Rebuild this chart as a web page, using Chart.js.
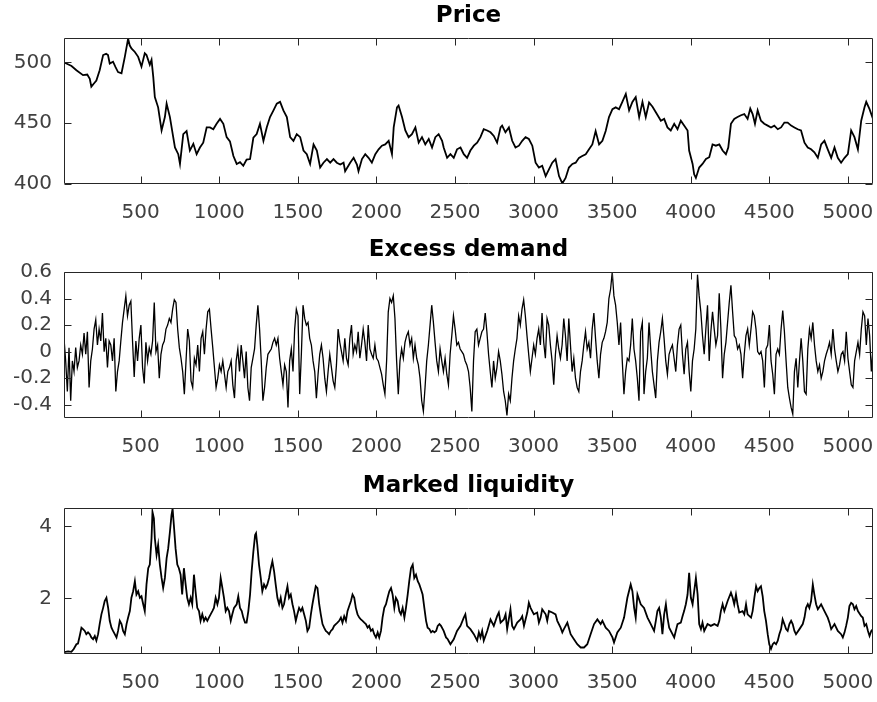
<!DOCTYPE html>
<html>
<head>
<meta charset="utf-8">
<title>Price, excess demand and market liquidity</title>
<script src="https://cdn.jsdelivr.net/npm/chart.js@4/dist/chart.umd.min.js"></script>
<style>
  html, body { margin: 0; padding: 0; background: #ffffff; }
  #figure { position: relative; width: 877px; height: 702px; overflow: hidden; background: #ffffff; }
  #figure canvas { position: absolute; left: 0; }
</style>
</head>
<body>
<div id="figure">
  <canvas id="pricePanel" width="877" height="234" style="top:0px;width:877px;height:234px"></canvas>
  <canvas id="demandPanel" width="877" height="234" style="top:234px;width:877px;height:234px"></canvas>
  <canvas id="liquidityPanel" width="877" height="232" style="top:470px;width:877px;height:232px"></canvas>
</div>
<script>
// ---------------- axes ----------------
const xTicks = [500, 1000, 1500, 2000, 2500, 3000, 3500, 4000, 4500, 5000];
const xTickLabels = ['500', '1000', '1500', '2000', '2500', '3000', '3500', '4000', '4500', '5000'];
const xRange = [12, 5160];

const priceTicks = [400, 450, 500];
const priceTickLabels = ['400', '450', '500'];
const priceRange = [400, 520];

const demandTicks = [-0.4, -0.2, 0, 0.2, 0.4, 0.6];
const demandTickLabels = ['-0.4', '-0.2', '0', '0.2', '0.4', '0.6'];
const demandRange = [-0.5, 0.6];

const liquidityTicks = [2, 4];
const liquidityTickLabels = ['2', '4'];
const liquidityRange = [0.46, 4.51];

const panelTitles = ['Price', 'Excess demand', 'Marked liquidity'];

// ---------------- price (step, price) ----------------
const priceX = [
  12,27,60,91,133,160,176,186,205,218,
  239,261,280,292,303,324,340,356,378,399,
  420,430,441,463,484,505,526,537,558,569,
  580,590,611,633,654,665,686,707,718,739,
  750,771,792,813,835,856,877,898,920,941,
  962,983,1005,1026,1047,1068,1090,1111,1132,1153,
  1174,1196,1217,1238,1259,1281,1302,1323,1345,1366,
  1387,1408,1430,1451,1472,1493,1515,1536,1557,1578,
  1600,1621,1642,1663,1685,1706,1727,1748,1770,1791,
  1801,1833,1855,1876,1886,1908,1929,1950,1971,1993,
  2014,2035,2056,2078,2099,2110,2131,2141,2163,2184,
  2205,2226,2248,2269,2290,2311,2333,2354,2375,2396,
  2418,2428,2450,2471,2492,2513,2535,2556,2577,2598,
  2620,2641,2662,2683,2705,2726,2747,2768,2790,2800,
  2821,2843,2864,2885,2907,2928,2949,2970,2992,3013,
  3034,3055,3077,3098,3119,3140,3162,3183,3204,3225,
  3247,3268,3289,3310,3332,3353,3374,3395,3417,3438,
  3459,3480,3502,3523,3544,3565,3587,3608,3629,3650,
  3672,3693,3714,3735,3757,3778,3799,3810,3831,3852,
  3873,3895,3916,3937,3958,3980,3990,4012,4022,4033,
  4054,4075,4097,4118,4139,4160,4182,4203,4224,4239,
  4256,4277,4298,4320,4341,4362,4379,4394,4409,4426,
  4447,4468,4490,4511,4532,4554,4575,4596,4617,4639,
  4660,4681,4702,4724,4745,4766,4787,4809,4830,4851,
  4872,4894,4915,4936,4957,4979,5000,5021,5042,5064,
  5085,5106,5117,5138,5160
];
const priceY = [
  500,499,497,493.5,489.5,490,486.5,480,483,485,
  493.5,506,507,506,499,500.5,496,492,491,504.5,
  519.5,514,511.5,508.5,504.5,496.5,507.5,506,498,502,
  488,471.5,463,444,455,466,455,438.5,430,424.5,
  416.5,441,443.5,427.5,433,424.5,430,434,446.5,446.5,
  445,449.5,453.5,449.5,438.5,435,423,416.5,418,415,
  420,420.5,438,441,449.5,435.5,446.5,455,460.5,466,
  467.5,460.5,455,438.5,435.5,441,438.5,427.5,424.5,416.5,
  432.5,427.5,413.5,417.5,420.5,417.5,420.5,417.5,416,417.5,
  410.5,417.5,421.5,416,410.5,420.5,424.5,421.5,417.5,424.5,
  428.5,431.5,432.5,435.5,424.5,446.5,463,464.5,455,444,
  438.5,441,446.5,434,438.5,432.5,437,430,438.5,441,
  435.5,430,421.5,424.5,421.5,428.5,430,424.5,421.5,427.5,
  431.5,434,438.5,445,444,442.5,439.5,434,446.5,448,
  442.5,446.5,435.5,430,431.5,435.5,438.5,437,431.5,417.5,
  413.5,415,406.5,412,417.5,420.5,406.5,400.5,405,413.5,
  416.5,417.5,421.5,423,424.5,428.5,432.5,443.5,432.5,435.5,
  443.5,455,461.5,463,461.5,467.5,474,460.5,467.5,471.5,
  455,467.5,455,467,463.5,459,454.5,452,453.5,446.5,
  444,449.5,445,452,448,444,427.5,416.5,408,405,
  413.5,416.5,420.5,422,432.5,431.5,432.5,427.5,424.5,430,
  449.5,453.5,455,456.5,457.5,453.5,462,457.5,449.5,460.5,
  452,449.5,448,446.5,448,445,446.5,450.5,450.5,448,
  446.5,445,444,434,430,428.5,426,421.5,432.5,435.5,
  428.5,421.5,430,421.5,417.5,421.5,424.5,444,438.5,428.5,
  452,463,467.5,461.5,453.5
];

// ---------------- excess demand (evenly sampled) ----------------
const demandFirstStep = 12;
const demandLastStep = 5160;
const demandValues = [
  0.10,-0.07,-0.30,0.03,-0.37,-0.07,-0.15,0.03,-0.12,-0.07,
  0.05,-0.02,0.14,-0.02,0.15,-0.27,-0.07,0.02,0.17,0.24,
  0.05,0.17,0.08,0.29,0.00,0.10,-0.12,0.08,0.05,-0.07,
  0.10,-0.30,-0.15,-0.07,0.08,0.22,0.32,0.42,0.27,0.35,
  0.38,0.08,-0.19,0.08,-0.07,0.10,0.20,-0.12,-0.24,0.07,
  -0.07,0.03,-0.02,0.08,0.37,0.00,0.05,-0.20,-0.02,0.05,
  0.08,0.17,0.20,0.25,0.22,0.32,0.39,0.37,0.17,0.03,
  -0.05,-0.15,-0.32,-0.07,0.17,0.08,-0.22,-0.27,-0.05,-0.10,
  0.05,-0.15,0.10,0.15,-0.02,0.17,0.30,0.32,0.17,0.03,
  -0.12,-0.27,-0.20,-0.10,-0.15,-0.07,-0.17,-0.27,-0.15,
  -0.12,-0.07,-0.25,-0.35,-0.07,0.02,-0.15,0.05,-0.07,-0.20,
  0.00,-0.27,-0.37,-0.12,-0.05,0.02,0.20,0.35,0.17,-0.07,
  -0.37,-0.27,-0.12,-0.02,0.00,0.02,0.07,0.10,0.05,0.10,
  -0.05,-0.15,-0.25,-0.10,-0.15,-0.42,-0.07,0.02,-0.15,0.17,
  0.32,0.27,-0.32,-0.02,0.35,0.25,0.20,0.22,0.10,0.05,
  -0.07,-0.15,-0.35,-0.17,-0.02,0.05,-0.05,-0.20,-0.30,-0.15,
  -0.02,-0.12,-0.22,-0.27,-0.10,0.17,0.07,0.00,-0.07,0.10,
  -0.05,-0.10,0.10,0.20,-0.02,0.05,0.00,0.15,-0.05,0.05,
  0.17,0.07,-0.07,0.20,0.02,-0.02,-0.05,0.05,-0.05,-0.07,
  -0.12,-0.17,-0.25,-0.32,-0.07,0.30,0.40,0.37,0.42,0.25,
  -0.07,-0.32,-0.07,0.02,-0.05,0.07,0.12,0.15,0.05,0.10,
  -0.05,0.05,-0.05,-0.10,-0.20,-0.37,-0.45,-0.27,-0.07,0.05,
  0.20,0.35,0.22,0.07,-0.07,-0.15,
  0.02,-0.07,-0.15,-0.05,-0.17,-0.25,-0.02,0.12,0.27,0.17,
  0.05,0.07,0.02,0.00,-0.02,-0.07,-0.10,-0.15,-0.27,-0.45,
  -0.07,0.15,0.17,0.05,0.10,0.15,0.17,0.29,0.15,-0.02,
  -0.15,-0.27,-0.07,-0.20,-0.12,0.00,-0.07,-0.17,-0.30,-0.37,
  -0.48,-0.32,-0.37,-0.20,-0.07,0.02,0.10,0.27,0.20,0.32,
  0.39,0.27,0.12,-0.02,-0.15,-0.05,0.05,-0.02,0.10,0.17,
  0.05,0.29,0.07,-0.05,0.25,0.20,0.05,-0.07,-0.25,-0.02,
  0.12,0.02,-0.05,0.05,0.25,0.12,-0.07,0.25,0.05,-0.15,
  -0.05,-0.20,-0.27,-0.30,-0.15,-0.07,0.05,0.15,0.02,0.07,
  -0.05,0.17,0.29,0.10,-0.07,-0.20,-0.02,0.07,0.10,0.15,
  0.22,0.40,0.47,0.60,0.42,0.35,0.22,0.05,0.22,-0.07,
  -0.32,-0.15,-0.05,-0.07,0.05,0.25,0.02,-0.07,-0.20,-0.37,
  0.15,0.22,-0.32,-0.15,-0.05,0.22,
  0.02,-0.15,-0.25,-0.35,-0.07,0.07,0.15,0.25,0.10,-0.07,
  -0.17,-0.02,0.02,0.05,-0.05,-0.15,0.05,0.17,0.20,-0.02,
  -0.17,0.02,0.07,-0.15,-0.30,-0.07,0.02,0.17,0.58,0.42,
  0.30,0.12,-0.02,0.17,0.35,-0.07,0.15,0.30,0.17,0.05,
  0.12,0.44,0.17,-0.20,-0.02,0.07,0.22,0.37,0.50,0.30,
  0.12,0.10,0.02,0.05,-0.02,-0.20,-0.02,0.12,0.17,0.05,
  0.17,0.30,0.27,0.17,0.00,-0.02,0.00,-0.07,-0.27,0.02,
  0.05,0.20,-0.07,-0.17,-0.32,-0.02,0.02,-0.02,0.17,0.31,
  0.15,-0.07,-0.27,-0.35,-0.42,-0.47,-0.15,-0.05,-0.27,-0.07,
  0.10,-0.07,-0.30,-0.32,0.02,0.17,0.10,0.22,0.05,-0.07,
  -0.15,-0.10,-0.20,-0.15,-0.07,-0.02,0.02,0.07,-0.02,0.17,
  0.02,-0.07,-0.15,-0.10,-0.02,0.00,-0.07,0.15,-0.05,-0.15,
  -0.25,-0.27,-0.07,0.00,0.07,-0.02,0.17,0.30,0.27,0.05,
  0.25,0.12,-0.15,0.02
];

// ---------------- market liquidity (step, level) ----------------
const liquidityX = [
  12,38,59,74,91,101,112,123,133,144,
  154,165,176,186,197,208,218,229,239,250,
  261,271,282,293,303,314,324,335,346,356,
  367,378,388,399,410,420,431,441,452,463,
  473,484,495,505,516,526,537,548,558,569,
  575,584,590,601,611,622,633,643,654,665,
  675,686,696,703,711,722,733,743,754,764,
  775,786,796,807,818,828,839,849,860,871,
  881,892,903,913,924,934,945,956,966,977,
  988,998,1009,1020,1030,1041,1051,1062,1073,1083,
  1094,1111,1121,1132,1143,1153,1164,1174,1185,1196,
  1206,1217,1228,1234,1242,1253,1264,1274,1285,1296,
  1306,1317,1328,1338,1349,1359,1370,1381,1391,1402,
  1412,1423,1434,1444,1455,1466,1476,1487,1497,1508,
  1519,1529,1540,1551,1561,1572,1583,1593,1604,1614,
  1625,1636,1646,1657,1667,1678,1689,1699,1710,1721,
  1731,1742,1752,1763,1774,1784,1795,1806,1816,1827,
  1838,1848,1859,1869,1880,1891,1901,1912,1923,1933,
  1944,1954,1965,1976,1986,1997,2008,2018,2029,2039,
  2050,2061,2071,2082,2093,2103,2114,2124,2135,2146,
  2156,2167,2178,2188,2199,2209,2220,2231,2241,2252,
  2263,2273,2284,2294,2305,2316,2326,2337,2348,2358,
  2369,2380,2390,2401,2411,2428,2443,2454,2471,2492,
  2513,2535,2556,2566,2577,2598,2620,2641,2652,2662,
  2673,2683,2705,2726,2747,2768,2779,2790,2811,2822,
  2832,2853,2864,2875,2896,2917,2928,2939,2960,2970,
  2981,3002,3023,3034,3045,3055,3077,3087,3098,3119,
  3140,3151,3172,3183,3193,3215,3236,3257,3278,3300,
  3321,3342,3363,3385,3406,3427,3438,3459,3480,3502,
  3512,3533,3555,3576,3597,3618,3629,3640,3650,3661,
  3682,3703,3725,3746,3767,3778,3788,3799,3810,3820,
  3831,3842,3852,3863,3884,3895,3905,3916,3937,3948,
  3958,3969,3980,3990,4001,4012,4022,4033,4044,4054,
  4065,4075,4086,4107,4128,4150,4171,4182,4192,4203,
  4214,4235,4256,4267,4277,4288,4298,4309,4330,4341,
  4352,4362,4384,4394,4405,4416,4426,4437,4447,4458,
  4468,4479,4490,4500,4511,4522,4532,4543,4554,4564,
  4575,4585,4596,4607,4617,4628,4639,4649,4660,4670,
  4692,4713,4724,4734,4745,4755,4766,4777,4787,4798,
  4809,4830,4851,4872,4883,4894,4915,4936,4957,4968,
  4979,4989,5000,5010,5021,5032,5042,5053,5064,5085,
  5095,5106,5117,5128,5138,5149,5160
];
const liquidityY = [
  0.51,0.53,0.52,0.60,0.73,0.75,0.96,1.19,1.15,1.10,
  1.01,1.06,1.01,0.92,0.87,0.96,0.83,1.01,1.29,1.56,
  1.74,1.93,2.02,1.74,1.38,1.19,1.10,1.01,0.92,1.10,
  1.38,1.29,1.10,1.01,1.29,1.47,1.65,2.02,2.20,2.48,
  2.11,2.20,2.02,2.06,1.84,1.65,2.39,2.84,2.94,3.67,
  4.40,4.22,3.67,3.21,3.49,2.94,2.57,2.29,2.57,3.12,
  3.39,3.85,4.31,4.49,4.04,3.39,2.94,2.84,2.66,2.11,
  2.84,2.39,2.02,1.84,2.02,1.84,2.66,2.20,1.74,1.65,
  1.38,1.56,1.38,1.47,1.38,1.47,1.56,1.65,1.74,2.02,
  1.84,2.02,2.57,2.29,2.02,1.65,1.74,1.65,1.38,1.56,
  1.74,1.84,2.06,1.74,1.65,1.47,1.33,1.33,1.65,2.11,
  2.75,3.30,3.76,3.81,3.49,2.94,2.57,2.20,2.39,2.29,
  2.39,2.57,2.84,3.03,2.75,2.39,2.02,1.84,2.02,1.74,
  1.84,2.11,2.34,2.02,2.11,1.84,1.65,1.38,1.56,1.74,
  1.65,1.74,1.56,1.38,1.10,1.19,1.56,1.84,2.11,2.34,
  2.29,1.84,1.56,1.29,1.19,1.10,1.06,1.01,1.10,1.15,
  1.24,1.29,1.33,1.38,1.47,1.33,1.51,1.38,1.65,1.79,
  1.93,2.11,2.02,1.74,1.56,1.47,1.42,1.38,1.33,1.29,
  1.19,1.24,1.10,1.15,1.01,0.92,1.06,0.92,1.10,1.47,
  1.74,1.84,2.02,2.20,2.29,2.11,1.74,2.02,1.93,1.65,
  1.56,1.74,1.47,1.74,2.11,2.48,2.84,2.94,2.57,2.66,
  2.48,2.39,2.25,2.11,1.74,1.38,1.19,1.15,1.06,1.10,
  1.06,1.10,1.24,1.29,1.24,1.10,0.92,0.87,0.73,0.87,
  1.10,1.24,1.47,1.56,1.24,1.15,1.01,0.83,1.06,0.92,
  1.10,0.83,1.10,1.42,1.24,1.51,1.61,1.33,1.42,1.56,
  1.15,1.70,1.24,1.15,1.33,1.42,1.51,1.24,1.61,1.88,
  1.74,1.56,1.61,1.33,1.47,1.70,1.56,1.38,1.65,1.61,
  1.56,1.38,1.19,1.06,1.15,1.33,1.01,0.87,0.73,0.64,
  0.64,0.73,1.01,1.29,1.42,1.29,1.38,1.19,1.10,0.92,
  0.78,1.06,1.19,1.47,2.02,2.39,2.20,1.74,1.47,2.11,
  1.84,1.74,1.47,1.29,1.10,1.38,1.65,1.74,1.47,1.01,
  1.56,1.84,1.47,1.19,1.01,0.92,1.10,1.29,1.33,1.51,
  1.65,1.84,2.11,2.71,2.02,1.84,2.20,2.57,2.11,1.29,
  1.15,1.33,1.10,1.29,1.24,1.29,1.24,1.38,1.65,1.84,
  1.65,1.93,2.16,2.02,1.84,2.11,1.84,1.61,1.65,1.56,
  1.84,1.56,1.47,1.65,2.02,2.34,2.20,2.29,2.34,2.06,
  1.65,1.38,1.01,0.73,0.60,0.73,0.78,0.73,0.83,1.01,
  1.15,1.42,1.29,1.15,1.10,1.29,1.38,1.29,1.10,1.01,
  1.15,1.29,1.47,1.74,1.84,1.74,1.93,2.39,2.11,1.84,
  1.70,1.84,1.65,1.47,1.33,1.15,1.29,1.10,1.01,0.92,
  1.06,1.24,1.47,1.79,1.88,1.84,1.70,1.79,1.65,1.51,
  1.47,1.24,1.29,1.10,0.96,1.10,1.15
];

// ---------------- layout & style ----------------
const FONT = "'DejaVu Sans', 'Liberation Sans', sans-serif";
const PLOT_TOP = 38;        // top of each axes box inside its canvas
const PLOT_BOTTOM = 184;    // bottom of each axes box inside its canvas
const AXIS_LEFT = 64;       // left edge of the axes box
const RIGHT_GAP = 4;        // space right of the axes box
const TITLE_SIZE = 23;
const TITLE_LINE = 1.2;
const TICK_SIZE = 20;
const TICK_COLOR = '#404040';
const FRAME_COLOR = '#262626';
const TICK_MARK = 7;

function toPoints(xs, ys) {
  const n = Math.min(xs.length, ys.length);
  const pts = [];
  for (let i = 0; i < n; i++) pts.push({ x: xs[i], y: ys[i] });
  return pts;
}

function evenPoints(first, last, values) {
  const step = (last - first) / (values.length - 1);
  return values.map((v, i) => ({ x: first + i * step, y: v }));
}

// Closed box around the plot area with inward tick marks on all four sides.
const axesBox = {
  id: 'axesBox',
  afterDatasetsDraw(chart) {
    const { ctx, chartArea: a } = chart;
    const xs = chart.scales.x, ys = chart.scales.y;
    const l = Math.round(a.left) + 0.5, r = Math.round(a.right) - 0.5;
    const t = Math.round(a.top) + 0.5, b = Math.round(a.bottom) - 0.5;
    ctx.save();
    ctx.strokeStyle = FRAME_COLOR;
    ctx.lineWidth = 1;
    ctx.beginPath();
    ctx.rect(l, t, r - l, b - t);
    xs.ticks.forEach(tk => {
      const px = Math.round(xs.getPixelForValue(tk.value)) + 0.5;
      ctx.moveTo(px, b); ctx.lineTo(px, b - TICK_MARK);
      ctx.moveTo(px, t); ctx.lineTo(px, t + TICK_MARK);
    });
    ys.ticks.forEach(tk => {
      const py = Math.round(ys.getPixelForValue(tk.value)) + 0.5;
      ctx.moveTo(l, py); ctx.lineTo(l + TICK_MARK, py);
      ctx.moveTo(r, py); ctx.lineTo(r - TICK_MARK, py);
    });
    ctx.stroke();
    ctx.restore();
  }
};

function makePanel(canvasId, title, points, yRange, yTicks, yTickLabels, lineWidth) {
  const canvas = document.getElementById(canvasId);
  const H = canvas.height;
  const titleTop = 2;
  const titleBottom = PLOT_TOP - titleTop - TITLE_SIZE * TITLE_LINE;
  return new Chart(canvas, {
    type: 'line',
    data: {
      datasets: [{
        data: points,
        borderColor: '#000000',
        borderWidth: lineWidth,
        pointRadius: 0,
        pointHoverRadius: 0,
        tension: 0,
        fill: false
      }]
    },
    options: {
      responsive: false,
      animation: false,
      devicePixelRatio: 1,
      parsing: false,
      normalized: true,
      events: [],
      layout: { padding: { left: 0, right: RIGHT_GAP, top: 0, bottom: 0 } },
      plugins: {
        legend: { display: false },
        tooltip: { enabled: false },
        title: {
          display: true,
          text: title,
          fullSize: false,
          color: '#000000',
          font: { family: FONT, size: TITLE_SIZE, weight: 'bold', lineHeight: TITLE_LINE },
          padding: { top: titleTop, bottom: titleBottom }
        }
      },
      scales: {
        x: {
          type: 'linear',
          min: xRange[0],
          max: xRange[1],
          grid: { display: false, drawTicks: false },
          border: { display: false },
          afterBuildTicks: s => { s.ticks = xTicks.map(v => ({ value: v })); },
          afterFit: s => {
            s.height = H - PLOT_BOTTOM;
            s.paddingLeft = 0;
            s.paddingRight = 0;
          },
          ticks: {
            padding: 17,
            color: TICK_COLOR,
            autoSkip: false,
            maxRotation: 0,
            font: { family: FONT, size: TICK_SIZE },
            callback: v => xTickLabels[xTicks.indexOf(v)]
          }
        },
        y: {
          type: 'linear',
          min: yRange[0],
          max: yRange[1],
          grid: { display: false, drawTicks: false },
          border: { display: false },
          afterBuildTicks: s => { s.ticks = yTicks.map(v => ({ value: v })); },
          afterFit: s => {
            s.width = AXIS_LEFT;
            s.paddingTop = 0;
            s.paddingBottom = 0;
          },
          ticks: {
            padding: 12,
            color: TICK_COLOR,
            autoSkip: false,
            font: { family: FONT, size: TICK_SIZE },
            callback: v => yTickLabels[yTicks.indexOf(v)]
          }
        }
      }
    },
    plugins: [axesBox]
  });
}

makePanel('pricePanel', panelTitles[0], toPoints(priceX, priceY),
  priceRange, priceTicks, priceTickLabels, 1.8);
makePanel('demandPanel', panelTitles[1], evenPoints(demandFirstStep, demandLastStep, demandValues),
  demandRange, demandTicks, demandTickLabels, 1.3);
makePanel('liquidityPanel', panelTitles[2], toPoints(liquidityX, liquidityY),
  liquidityRange, liquidityTicks, liquidityTickLabels, 1.8);
</script>
</body>
</html>
